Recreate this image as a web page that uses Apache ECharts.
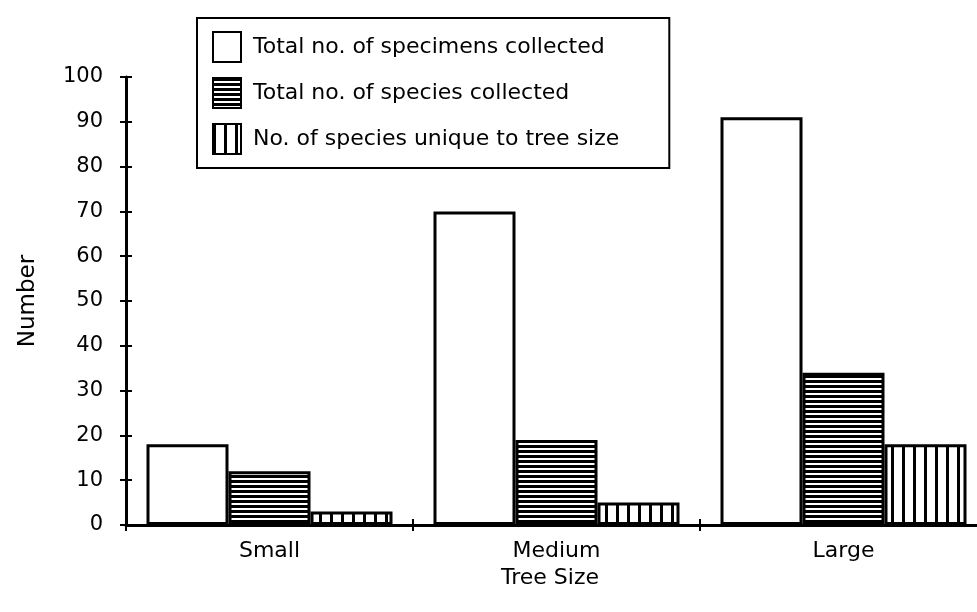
<!DOCTYPE html>
<html>
<head>
<meta charset="utf-8">
<script src="https://cdn.jsdelivr.net/npm/echarts@6/dist/echarts.min.js"></script>
<style>html,body{margin:0;padding:0;background:#fff;}#c{width:977px;height:612px;}</style>
</head>
<body>
<div id="c"></div>
<script>
const categories = ['Small', 'Medium', 'Large'];
const seriesNames = ['Total no. of specimens collected', 'Total no. of species collected', 'No. of species unique to tree size'];
const specimens = [18, 70, 91];
const species = [12, 19, 34];
const unique = [3, 5, 18];
const yMin = 0, yMax = 100, yStep = 10;

function hStripes() {
  const c = document.createElement('canvas');
  c.width = 8; c.height = 5;
  const g = c.getContext('2d');
  g.fillStyle = '#fff'; g.fillRect(0, 0, 8, 5);
  g.fillStyle = '#000'; g.fillRect(0, 0, 8, 3);
  return { image: c, repeat: 'repeat' };
}
function vStripes() {
  const c = document.createElement('canvas');
  c.width = 11; c.height = 8;
  const g = c.getContext('2d');
  g.fillStyle = '#fff'; g.fillRect(0, 0, 11, 8);
  g.fillStyle = '#000'; g.fillRect(0, 0, 3, 8);
  return { image: c, repeat: 'repeat' };
}

const FONT = 'DejaVu Sans';
const chart = echarts.init(document.getElementById('c'), null, { renderer: 'canvas' });
const barStyle = (color) => ({ color: color, borderColor: '#000', borderWidth: 3 });

chart.setOption({
  animation: false,
  backgroundColor: '#fff',
  grid: { left: 126, width: 861, top: 77, height: 448, containLabel: false, outerBoundsMode: 'none' },
  legend: {
    orient: 'vertical',
    left: 197, top: 18,
    padding: [13, 50, 13, 15],
    itemGap: 14,
    itemWidth: 28, itemHeight: 30,
    icon: 'rect',
    borderColor: '#000', borderWidth: 2,
    backgroundColor: '#fff',
    itemStyle: { borderColor: '#000', borderWidth: 2 },
    textStyle: { fontFamily: FONT, fontSize: 22, color: '#000', padding: [0, 0, 0, 7] },
    data: seriesNames
  },
  xAxis: [{
    type: 'category', data: categories, position: 'bottom',
    name: 'Tree Size', nameLocation: 'middle', nameGap: 40,
    nameTextStyle: { fontFamily: FONT, fontSize: 22, color: '#000', padding: [0, 13, 0, 0] },
    axisLine: { lineStyle: { color: '#000', width: 3 } },
    axisTick: { show: true, length: 6, lineStyle: { color: '#000', width: 2 } },
    axisLabel: { fontFamily: FONT, fontSize: 22, color: '#000', margin: 15 },
    splitLine: { show: false }
  }, {
    type: 'category', data: categories, position: 'bottom',
    axisLine: { show: false },
    axisTick: { show: true, inside: true, length: 6, lineStyle: { color: '#000', width: 2 } },
    axisLabel: { show: false },
    splitLine: { show: false }
  }],
  yAxis: [{
    type: 'value', min: yMin, max: yMax, interval: yStep,
    name: 'Number', nameLocation: 'middle', nameGap: 86, nameRotate: 90,
    nameTextStyle: { fontFamily: FONT, fontSize: 23, color: '#000' },
    axisLine: { show: true, lineStyle: { color: '#000', width: 3 } },
    axisTick: { show: true, length: 6, lineStyle: { color: '#000', width: 2 } },
    axisLabel: { fontFamily: FONT, fontSize: 21, color: '#000', margin: 23 },
    splitLine: { show: false }
  }, {
    type: 'value', min: yMin, max: yMax, interval: yStep, position: 'left',
    axisLine: { show: false },
    axisTick: { show: true, inside: true, length: 6, lineStyle: { color: '#000', width: 2 } },
    axisLabel: { show: false },
    splitLine: { show: false }
  }],
  series: [
    { name: seriesNames[0], type: 'bar', data: specimens, barWidth: 82, barGap: '0%', itemStyle: barStyle('#fff') },
    { name: seriesNames[1], type: 'bar', data: species, barWidth: 82, barGap: '0%', itemStyle: barStyle(hStripes()) },
    { name: seriesNames[2], type: 'bar', data: unique, barWidth: 82, barGap: '0%', itemStyle: barStyle(vStripes()) }
  ]
});
</script>
</body>
</html>
